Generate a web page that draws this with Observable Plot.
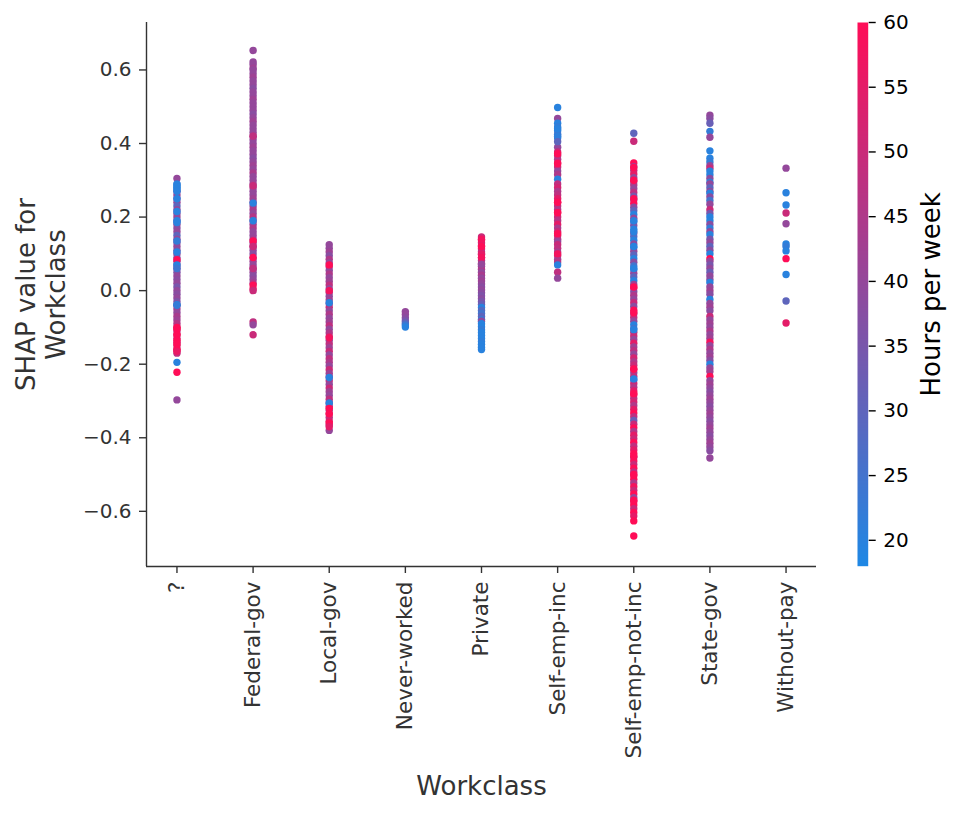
<!DOCTYPE html>
<html>
<head>
<meta charset="utf-8">
<script src="https://cdn.jsdelivr.net/npm/d3@7"></script>
<script src="https://cdn.jsdelivr.net/npm/@observablehq/plot@0.6"></script>
<style>
  html, body { margin: 0; padding: 0; background: #fff; overflow: hidden; }
  #chart { position: relative; width: 958px; height: 818px; }
  #chart svg { position: absolute; top: 0; }
</style>
</head>
<body>
<div id="chart"></div>
<script>
// ---- Data ----
const categories = ["?", "Federal-gov", "Local-gov", "Never-worked", "Private",
  "Self-emp-inc", "Self-emp-not-inc", "State-gov", "Without-pay"];

const yTicks = [-0.6, -0.4, -0.2, 0.0, 0.2, 0.4, 0.6];
const colorTicks = [20, 25, 30, 35, 40, 45, 50, 55, 60];
const colorDomain = [18, 60];

// [SHAP value, hours per week]
const ptsUnknown = [
  [0.305,40],[0.29,22],[0.28,20],[0.27,38],[0.26,40],[0.25,36],[0.24,40],[0.23,30],[0.22,40],[0.21,38],
  [0.2,40],[0.19,35],[0.18,40],[0.17,38],[0.16,40],[0.15,30],[0.14,40],[0.13,36],[0.12,40],[0.11,38],
  [0.1,40],[0.09,35],[0.08,40],[0.07,38],[0.06,40],[0.05,36],[0.04,40],[0.03,38],[0.02,40],[0.01,35],
  [0.0,40],[-0.01,38],[-0.02,40],[-0.03,36],[-0.04,40],[-0.05,42],[-0.06,40],[-0.07,44],[-0.08,42],
  [-0.09,46],[-0.1,50],[-0.11,48],[-0.12,52],[-0.13,50],[-0.14,48],[-0.15,52],[-0.16,50],[-0.17,48],
  [0.288,20],[0.282,20],[0.275,20],[0.27,20],[0.25,20],[0.215,20],[0.19,20],[0.185,20],[0.135,22],
  [0.105,20],[0.084,60],[0.07,20],[0.06,24],[-0.038,20],[-0.04,22],[-0.1,60],[-0.105,60],[-0.12,60],
  [-0.135,60],[-0.145,60],[-0.16,60],[-0.165,56],[-0.195,20],[-0.222,60],[-0.297,40]
];
const ptsFederal = [
  [0.653,40],[0.622,40],[0.615,40],[0.605,42],
  [0.60,40],[0.59,40],[0.58,42],[0.57,40],[0.56,40],[0.55,38],[0.54,40],[0.53,40],[0.52,42],[0.51,40],
  [0.50,40],[0.49,40],[0.48,38],[0.47,40],[0.46,42],[0.45,40],[0.44,40],[0.43,40],[0.42,45],[0.41,40],
  [0.40,40],[0.39,42],[0.38,40],[0.37,40],[0.36,38],[0.35,40],[0.34,42],[0.33,40],[0.32,44],[0.31,40],
  [0.30,40],[0.29,42],[0.28,45],[0.27,40],[0.26,40],[0.25,42],[0.24,40],[0.23,40],[0.22,44],[0.21,40],
  [0.20,46],[0.19,40],[0.18,42],[0.17,45],[0.16,40],[0.15,40],[0.14,42],[0.13,40],[0.12,44],[0.11,40],
  [0.10,38],[0.09,40],[0.08,42],[0.07,40],[0.06,45],[0.05,40],[0.04,38],[0.03,40],[0.02,45],
  [0.42,48],[0.285,50],[0.238,20],[0.19,20],[0.135,60],[0.12,50],
  [0.09,60],[0.06,48],[0.015,60],[0.005,58],[0.0,50],[-0.085,48],[-0.093,40],[-0.12,50]
];
const ptsLocal = [
  [0.125,40],[0.115,40],[0.105,42],[0.095,38],[0.085,45],[0.075,40],[0.065,48],[0.055,40],[0.045,45],
  [0.035,40],[0.025,42],[0.015,48],[0.005,40],[-0.005,45],[-0.015,40],[-0.025,42],[-0.035,40],[-0.045,48],
  [-0.055,40],[-0.065,45],[-0.075,40],[-0.085,42],[-0.095,48],[-0.105,40],[-0.115,45],[-0.125,50],
  [-0.135,40],[-0.145,48],[-0.155,42],[-0.165,50],[-0.175,40],[-0.185,48],[-0.195,45],[-0.205,40],
  [-0.215,50],[-0.225,42],[-0.235,45],[-0.245,48],[-0.255,40],[-0.265,50],[-0.275,42],[-0.285,40],
  [-0.295,48],[-0.305,40],[-0.315,52],[-0.325,45],[-0.335,55],[-0.345,48],[-0.355,52],[-0.365,45],[-0.38,40],
  [0.07,60],[0.0,58],[-0.033,20],[-0.128,58],[-0.236,20],[-0.306,20],[-0.32,60],[-0.335,60],[-0.36,60],[-0.37,55]
];
const ptsNever = [
  [-0.057,40],[-0.065,40],[-0.074,38],[-0.082,35],[-0.088,30],[-0.093,24],[-0.099,20]
];
const ptsPrivate = [
  [0.146,50],[0.138,52],[0.13,55],[0.122,50],[0.114,56],[0.106,48],[0.098,52],[0.09,50],[0.082,45],
  [0.074,48],[0.066,42],[0.058,45],[0.05,40],[0.042,44],[0.034,40],[0.026,42],[0.018,40],[0.01,38],
  [0.002,40],[-0.006,38],[-0.014,36],[-0.022,38],[-0.03,35],[-0.038,32],[-0.046,20],[-0.054,28],
  [-0.062,25],[-0.07,30],[-0.078,24],[-0.083,40],[-0.09,20],[-0.098,20],[-0.106,22],[-0.114,20],
  [-0.122,20],[-0.13,20],[-0.138,21],[-0.146,20],[-0.154,20],[-0.16,20],
  [0.14,58],[0.12,60],[0.1,55],[0.09,58],[0.072,40]
];
const ptsSelfInc = [
  [0.498,20],[0.468,40],[0.455,20],[0.445,22],[0.435,20],[0.425,24],[0.415,20],[0.39,40],[0.377,50],
  [0.367,48],[0.357,45],[0.347,55],[0.336,48],[0.325,40],[0.315,45],[0.303,20],[0.29,48],[0.28,52],
  [0.27,45],[0.26,48],[0.25,55],[0.24,60],[0.23,48],[0.22,45],[0.212,60],[0.2,50],[0.19,46],[0.18,55],
  [0.17,44],[0.16,50],[0.15,52],[0.14,46],[0.133,40],[0.125,50],[0.115,48],[0.105,44],[0.095,50],
  [0.085,42],[0.078,46],[0.07,20],[0.05,48],[0.034,40],
  [0.44,20],[0.42,21],[0.405,30],[0.372,60],[0.345,60],[0.24,60],[0.212,60],[0.155,60],[0.1,58]
];
const ptsSelfNotInc = [
  [0.428,30],[0.406,50],
  [0.347,60],[0.337,40],[0.327,48],[0.317,55],[0.307,40],[0.297,50],[0.287,45],[0.277,40],[0.267,48],
  [0.257,35],[0.247,42],[0.237,60],[0.227,38],[0.217,30],[0.207,20],[0.197,40],[0.187,25],[0.177,35],
  [0.167,20],[0.157,40],[0.147,28],[0.137,20],[0.127,38],[0.117,22],[0.107,40],[0.097,30],[0.087,20],
  [0.077,38],[0.067,25],[0.057,20],[0.047,40],[0.037,30],[0.027,20],[0.017,42],[0.007,60],[-0.003,38],
  [-0.013,45],[-0.023,40],[-0.033,50],[-0.043,38],[-0.053,60],[-0.063,42],[-0.073,48],[-0.083,40],
  [-0.093,20],[-0.103,25],[-0.113,45],[-0.123,50],[-0.133,40],[-0.143,55],[-0.153,42],[-0.163,48],
  [-0.173,40],[-0.183,52],[-0.193,45],[-0.203,50],[-0.213,60],[-0.223,42],[-0.233,48],[-0.243,20],
  [-0.253,50],[-0.263,45],[-0.273,55],[-0.283,60],[-0.293,48],[-0.303,52],[-0.313,45],[-0.323,55],
  [-0.333,60],[-0.343,48],[-0.353,32],[-0.363,50],[-0.373,60],[-0.383,45],[-0.393,55],[-0.403,50],
  [-0.413,60],[-0.423,48],[-0.433,55],[-0.443,60],[-0.453,45],[-0.463,58],[-0.473,50],[-0.483,60],
  [-0.493,48],[-0.503,55],[-0.513,60],[-0.523,45],[-0.533,58],[-0.543,50],[-0.553,60],[-0.563,40],
  [-0.573,55],[-0.583,60],[-0.593,50],[-0.603,60],[-0.613,55],[-0.626,60],[-0.667,60],
  [0.335,60],[0.3,60],[0.25,60],[0.19,20],[0.16,20],[0.12,20],[0.06,20],[0.01,60],[-0.06,60],
  [-0.106,20],[-0.214,60],[-0.24,20],[-0.28,60],[-0.45,60],[-0.5,60],[-0.57,60]
];
const ptsState = [
  [0.477,40],[0.468,38],[0.455,32],[0.433,22],[0.417,40],[0.38,20],
  [0.36,20],[0.35,22],[0.34,40],[0.333,50],[0.325,20],[0.315,20],[0.305,38],[0.295,22],[0.29,40],
  [0.28,30],[0.27,40],[0.265,20],[0.255,38],[0.245,25],[0.235,40],[0.22,50],[0.21,35],[0.2,20],
  [0.19,20],[0.18,38],[0.17,22],[0.16,40],[0.152,20],[0.14,35],[0.13,40],[0.12,30],[0.11,38],[0.1,20],
  [0.087,60],[0.08,40],[0.07,35],[0.06,40],[0.05,32],[0.04,40],[0.03,38],[0.022,20],[0.01,40],[0.0,42],
  [-0.01,38],[-0.024,20],[-0.035,40],[-0.045,42],[-0.055,38],[-0.07,50],[-0.08,40],[-0.09,42],
  [-0.1,40],[-0.11,45],[-0.12,40],[-0.13,42],[-0.14,58],[-0.15,40],[-0.16,45],[-0.17,40],[-0.18,42],
  [-0.19,38],[-0.2,20],[-0.21,40],[-0.22,42],[-0.233,60],[-0.245,40],[-0.255,42],[-0.265,40],[-0.275,38],
  [-0.285,40],[-0.295,42],[-0.305,40],[-0.315,38],[-0.325,40],[-0.335,42],[-0.345,40],[-0.355,38],
  [-0.365,40],[-0.375,42],[-0.385,40],[-0.395,38],[-0.405,40],[-0.415,42],[-0.425,40],[-0.435,38],[-0.455,40]
];
const ptsWithout = [
  [0.333,40],[0.266,20],[0.233,20],[0.211,50],[0.182,40],[0.127,20],[0.12,22],[0.108,20],[0.087,60],
  [0.044,20],[-0.028,30],[-0.088,55]
];

const series = [ptsUnknown, ptsFederal, ptsLocal, ptsNever, ptsPrivate, ptsSelfInc, ptsSelfNotInc, ptsState, ptsWithout];

// ---- Build table ----
const rows = [];
series.forEach((pts, i) => pts.forEach(([v, h]) => rows.push({cat: i, v, h})));

const colorOpts = {type: "linear", domain: colorDomain, range: ["#1E88E5", "#FF0D57"], interpolate: "rgb"};
const font = "DejaVu Sans, Liberation Sans, sans-serif";

const main = Plot.plot({
  width: 958, height: 818,
  marginLeft: 146, marginRight: 142, marginTop: 22, marginBottom: 252,
  style: {fontFamily: font, fontSize: "20px", color: "#333", background: "transparent", overflow: "visible"},
  x: {type: "linear", domain: [-0.4, 8.4], axis: null},
  y: {domain: [-0.75, 0.729], axis: null},
  color: colorOpts,
  marks: [
    Plot.axisY({ticks: yTicks, tickFormat: d3.format(".1f"), tickSize: 7, tickPadding: 8,
      fontSize: 20, label: null, strokeWidth: 1.4, color: "#333"}),
    Plot.axisX({ticks: categories.map((c, i) => i), tickFormat: i => categories[i], tickRotate: -90,
      tickSize: 7, tickPadding: 8, fontSize: 21.5, label: null, strokeWidth: 1.4, color: "#333"}),
    Plot.ruleX([-0.4], {stroke: "#333", strokeWidth: 1.4}),
    Plot.ruleY([-0.75], {stroke: "#333", strokeWidth: 1.4}),
    Plot.dot(rows, {x: "cat", y: "v", fill: "h", r: 3.7, stroke: null}),
    Plot.text(["SHAP value for\nWorkclass"], {text: d => d, frameAnchor: "left", textAnchor: "middle",
      rotate: -90, dx: -106, fontSize: 26, fill: "#333", lineHeight: 1.15}),
    Plot.text(["Workclass"], {text: d => d, frameAnchor: "bottom", textAnchor: "middle", dy: 228,
      fontSize: 26, fill: "#333"})
  ]
});
main.style.left = "0px";

const bar = Plot.plot({
  width: 101, height: 818,
  marginLeft: 0, marginRight: 90.3, marginTop: 22, marginBottom: 252.3,
  style: {fontFamily: font, fontSize: "20px", color: "#000", background: "transparent", overflow: "visible"},
  x: {domain: [0, 1], axis: null},
  y: {domain: colorDomain, axis: null},
  color: colorOpts,
  marks: [
    Plot.raster({x1: 0, x2: 1, y1: colorDomain[0], y2: colorDomain[1], width: 1, height: 544,
      fill: (x, y) => y, imageRendering: "auto"}),
    Plot.axisY({anchor: "right", ticks: colorTicks, tickSize: 7, tickPadding: 8, fontSize: 20,
      label: null, strokeWidth: 1.4, color: "#000"}),
    Plot.text(["Hours per week"], {text: d => d, frameAnchor: "right", textAnchor: "middle",
      rotate: -90, dx: 63, fontSize: 26, fill: "#000"})
  ]
});
bar.style.left = "857.3px";

const chart = document.getElementById("chart");
chart.appendChild(main);
chart.appendChild(bar);
</script>
</body>
</html>
